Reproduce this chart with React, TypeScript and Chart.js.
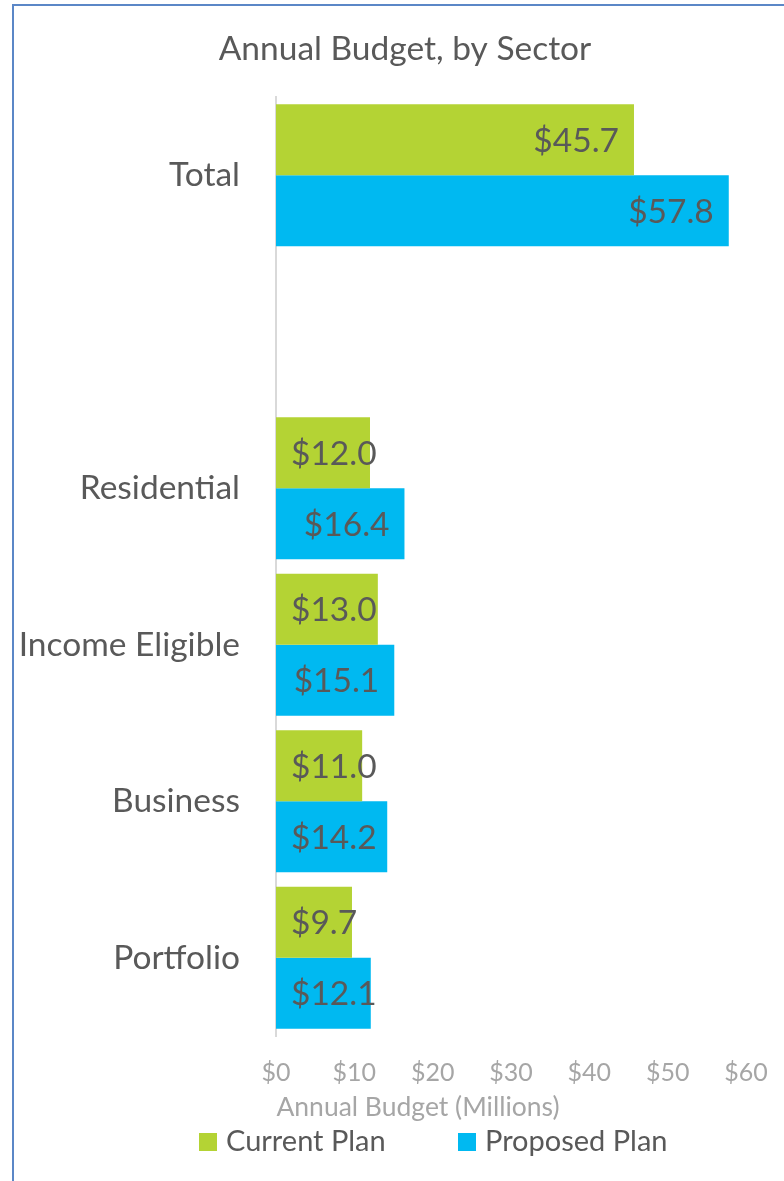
import React, { useEffect, useRef } from "react";
import { Chart, registerables } from "chart.js";

Chart.register(...registerables);

const categories: string[] = ["Total", "", "Residential", "Income Eligible", "Business", "Portfolio"];
const currentPlan: (number | null)[] = [45.7, null, 12.0, 13.0, 11.0, 9.7];
const proposedPlan: (number | null)[] = [57.8, null, 16.4, 15.1, 14.2, 12.1];
const seriesNames: string[] = ["Current Plan", "Proposed Plan"];
const chartTitle = "Annual Budget, by Sector";
const xAxisTitle = "Annual Budget (Millions)";

const GREEN = "#b4d334";
const BLUE = "#00b9f1";
const TEXT = "#595959";
const LIGHT = "#a6a6a6";
const FONT = "Lato, 'Open Sans', sans-serif";

const W = 784;
const H = 1181;

const decorPlugin = {
  id: "decor",
  beforeDraw(chart: any) {
    const ctx = chart.ctx;
    ctx.save();
    ctx.strokeStyle = "#5b87c7";
    ctx.lineWidth = 2;
    ctx.beginPath();
    ctx.moveTo(13, H);
    ctx.lineTo(13, 5);
    ctx.lineTo(W, 5);
    ctx.stroke();
    ctx.restore();
  },
  afterDatasetsDraw(chart: any) {
    const ctx = chart.ctx;
    ctx.save();
    ctx.font = `33.5px ${FONT}`;
    ctx.fillStyle = TEXT;
    ctx.textAlign = "right";
    ctx.textBaseline = "middle";
    chart.data.datasets.forEach((ds: any, di: number) => {
      const meta = chart.getDatasetMeta(di);
      meta.data.forEach((el: any, i: number) => {
        const v = ds.data[i];
        if (v === null || v === undefined) return;
        const text = "$" + Number(v).toFixed(1);
        const w = ctx.measureText(text).width;
        const right = Math.max(el.x - 15, el.base + 15 + w);
        ctx.fillText(text, right, el.y + 1);
      });
    });
    ctx.restore();
  },
  afterDraw(chart: any) {
    const ctx = chart.ctx;
    ctx.save();
    // title
    ctx.fillStyle = TEXT;
    ctx.font = `33.5px ${FONT}`;
    ctx.textAlign = "center";
    ctx.textBaseline = "middle";
    ctx.fillText(chartTitle, 405, 49);
    // x axis title
    ctx.fillStyle = LIGHT;
    ctx.font = `26.5px ${FONT}`;
    ctx.fillText(xAxisTitle, 418, 1107);
    // legend
    const items = [
      { label: seriesNames[0], color: GREEN, x: 199 },
      { label: seriesNames[1], color: BLUE, x: 458 },
    ];
    ctx.font = `29px ${FONT}`;
    ctx.textAlign = "left";
    items.forEach((it) => {
      ctx.fillStyle = it.color;
      ctx.fillRect(it.x, 1133, 18, 18);
      ctx.fillStyle = TEXT;
      ctx.fillText(it.label, it.x + 27, 1142);
    });
    ctx.restore();
  },
};

export default function App() {
  const ref = useRef<HTMLCanvasElement | null>(null);
  useEffect(() => {
    if (!ref.current) return;
    const chart = new Chart(ref.current, {
      type: "bar",
      data: {
        labels: categories,
        datasets: [
          {
            label: seriesNames[0],
            data: currentPlan,
            backgroundColor: GREEN,
            categoryPercentage: 0.907,
            barPercentage: 1,
          },
          {
            label: seriesNames[1],
            data: proposedPlan,
            backgroundColor: BLUE,
            categoryPercentage: 0.907,
            barPercentage: 1,
          },
        ] as any,
      },
      options: {
        indexAxis: "y",
        responsive: false,
        animation: false,
        events: [],
        layout: { padding: { top: 97, right: 38, bottom: 0, left: 0 } },
        plugins: {
          legend: { display: false },
          title: { display: false },
          tooltip: { enabled: false },
        },
        scales: {
          x: {
            min: 0,
            max: 60,
            grid: { display: false, drawTicks: true, tickLength: 22 },
            border: { display: false },
            ticks: {
              stepSize: 10,
              maxRotation: 0,
              padding: 0,
              color: LIGHT,
              font: { family: FONT, size: 25 },
              callback: (v: any) => "$" + v,
            },
            afterFit: (s: any) => {
              s.height = 145;
            },
          },
          y: {
            grid: { display: false, drawTicks: false },
            border: { display: true, color: "#d9d9d9", width: 2 },
            ticks: {
              padding: 36,
              color: TEXT,
              font: { family: FONT, size: 33.5 },
            },
            afterFit: (s: any) => {
              s.width = 276;
            },
          },
        },
      } as any,
      plugins: [decorPlugin],
    });
    return () => chart.destroy();
  }, []);
  return (
    <div style={{ position: "fixed", left: 0, top: 0, width: W, height: H, background: "#fff" }}>
      <canvas ref={ref} width={W} height={H} style={{ display: "block" }} />
    </div>
  );
}
